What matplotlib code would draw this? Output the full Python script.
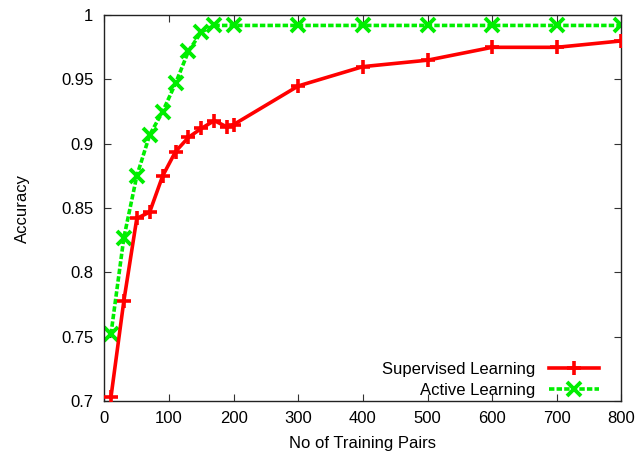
import matplotlib
matplotlib.use("Agg")
import matplotlib.pyplot as plt

# datos
pares_sup = [10, 30, 50, 70, 90, 110, 130, 150, 170, 190, 200, 300, 400, 500, 600, 700, 800]
acc_sup = [0.703, 0.778, 0.842, 0.847, 0.875, 0.894, 0.905, 0.912, 0.918, 0.913, 0.915,
           0.945, 0.960, 0.965, 0.975, 0.975, 0.980]

pares_act = [10, 30, 50, 70, 90, 110, 130, 150, 170, 200, 300, 400, 500, 600, 700, 800]
acc_act = [0.752, 0.827, 0.875, 0.907, 0.925, 0.947, 0.972, 0.987, 0.992, 0.992,
           0.992, 0.992, 0.992, 0.992, 0.992, 0.992]

xticks = [0, 100, 200, 300, 400, 500, 600, 700, 800]
yticks = [0.7, 0.75, 0.8, 0.85, 0.9, 0.95, 1.0]
yticklabels = ["0.7", "0.75", "0.8", "0.85", "0.9", "0.95", "1"]

plt.rcParams['font.family'] = ['Liberation Sans', 'DejaVu Sans']
plt.rcParams['font.size'] = 12

fig = plt.figure(figsize=(6.39, 4.59), dpi=100)
ax = fig.add_axes([0.1635, 0.126, 0.809, 0.841])

ax.plot(pares_sup, acc_sup, color='#ff0000', lw=2.6, marker='+', ms=10, mew=2.6,
        label='Supervised Learning', zorder=3)
ax.plot(pares_act, acc_act, color='#00ee00', lw=2.6, linestyle=(0, (1.5, 0.6)),
        marker='x', ms=10, mew=2.8, label='Active Learning', zorder=2)

ax.set_xlim(0, 800)
ax.set_ylim(0.7, 1.0)
ax.set_xticks(xticks)
ax.set_yticks(yticks)
ax.set_yticklabels(yticklabels)
ax.tick_params(direction='in', top=True, right=True, length=5, width=0.8,
               color='#333333')
ax.tick_params(axis='y', pad=8)
ax.tick_params(axis='x', pad=7)
for s in ax.spines.values():
    s.set_color('#222222')
    s.set_linewidth(1.0)

ax.set_xlabel('No of Training Pairs', labelpad=7)
ax.set_ylabel('Accuracy', labelpad=22)

ax.legend(loc='lower right', bbox_to_anchor=(0.956, 0.008), frameon=False,
          markerfirst=False, borderpad=0, handlelength=3.0, handletextpad=0.8,
          labelspacing=0.35, borderaxespad=0)

fig.savefig('out.png', dpi=100)
